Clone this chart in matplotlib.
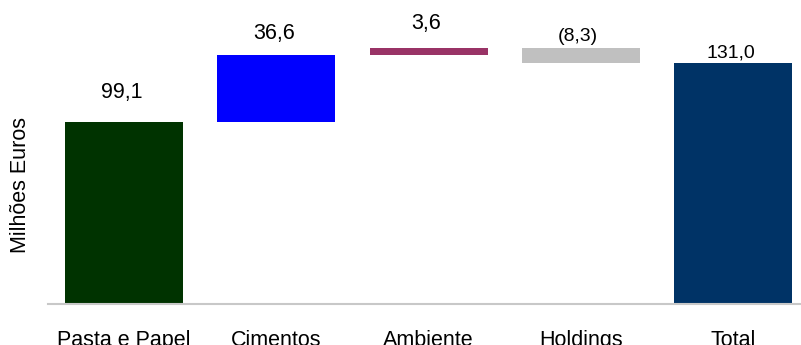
import matplotlib.pyplot as plt

# data
categories = ['Pasta e Papel', 'Cimentos', 'Ambiente', 'Holdings', 'Total']
values = [99.1, 36.6, 3.6, -8.3, 131.0]
value_labels = ['99,1', '36,6', '3,6', '(8,3)', '131,0']
is_total = [False, False, False, False, True]

# styling
colors = ['#003300', '#0000FF', '#993366', '#C0C0C0', '#003366']
label_sizes = [15.5, 15.5, 15.5, 14, 14]
label_pads = [14, 8, 10, 2, 1]   # points above bar top

plt.rcParams['font.family'] = ['Liberation Sans', 'DejaVu Sans']

fig = plt.figure(figsize=(8.01, 3.45), dpi=100)
ax = fig.add_axes([48 / 801, 41 / 345, 1 - 48 / 801, 304 / 345])

# waterfall bases
bottoms, tops = [], []
running = 0.0
for v, tot in zip(values, is_total):
    if tot:
        b, t = 0.0, v
    else:
        b, t = (running, running + v) if v >= 0 else (running + v, running)
        running += v
    bottoms.append(b)
    tops.append(t)

heights = [t - b for b, t in zip(bottoms, tops)]
x = range(len(categories))
ax.bar(x, heights, bottom=bottoms, width=0.775, color=colors, zorder=2)

for i, (t, lab) in enumerate(zip(tops, value_labels)):
    ax.annotate(lab, (i, t), xytext=(-2, label_pads[i]), textcoords='offset points',
                ha='center', va='bottom', fontsize=label_sizes[i], color='black')

ax.set_xlim(-0.5, 4.444)
ax.set_ylim(0, 165.5)
ax.set_xticks(list(x))
ax.set_xticklabels(categories, fontsize=15.5)
ax.tick_params(axis='x', length=0, pad=19)
ax.set_yticks([])
for s in ['top', 'right', 'left']:
    ax.spines[s].set_visible(False)
ax.spines['bottom'].set_color('#c8c8c8')
ax.spines['bottom'].set_linewidth(1.5)

ax.set_ylabel('Milhões Euros', fontsize=15.5)
ax.yaxis.set_label_coords(-0.022, 0.39)

fig.savefig('out.png', dpi=100)
